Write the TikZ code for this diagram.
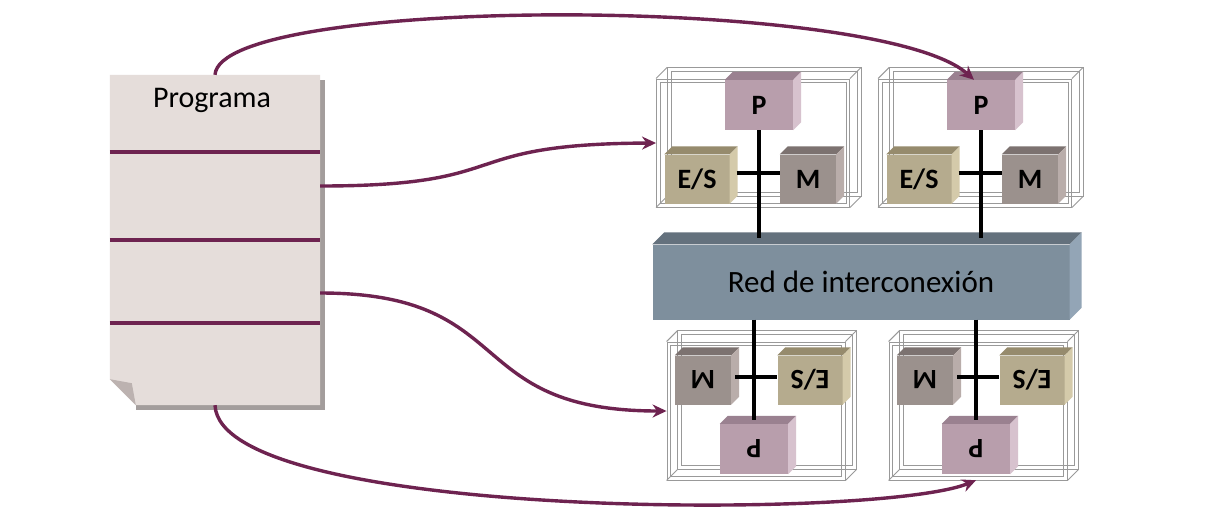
\documentclass[tikz,border=0pt]{standalone}
\usepackage{fontspec}
\setmainfont{Carlito}
\usetikzlibrary{positioning,arrows.meta,calc}

\definecolor{vino}{HTML}{6E2350}
\definecolor{papel}{HTML}{E5DDDA}
\definecolor{pliegue}{HTML}{BCB2B0}
\definecolor{sombra}{HTML}{A39D9C}
\definecolor{colP}{HTML}{B89EAC}
\definecolor{colPtop}{HTML}{9A8190}
\definecolor{colPside}{HTML}{D7C2CE}
\definecolor{colES}{HTML}{B5AB8E}
\definecolor{colEStop}{HTML}{968B6D}
\definecolor{colESside}{HTML}{D4CAAA}
\definecolor{colM}{HTML}{9B918D}
\definecolor{colMtop}{HTML}{7C7270}
\definecolor{colMside}{HTML}{B9ADAA}
\definecolor{colRed}{HTML}{7E8F9D}
\definecolor{colRedtop}{HTML}{64717D}
\definecolor{colRedside}{HTML}{93A5B6}

\tikzset{
  bloque/.style={inner sep=0pt, font=\fontsize{28}{28}\selectfont\bfseries},
  bloqueP/.style={bloque, fill=colP, minimum width=68pt, minimum height=50pt},
  bloqueES/.style={bloque, fill=colES, minimum width=65pt, minimum height=49pt},
  bloqueM/.style={bloque, fill=colM, minimum width=56pt, minimum height=49pt},
  wire/.style={draw=gray!80, line width=0.9pt, inner sep=0pt},
  bus/.style={line width=4pt, black},
  flecha/.style={draw=vino, line width=3.4pt, -{Stealth[length=14pt,width=13pt]}},
  renglon/.style={draw=vino, line width=3.4pt},
}

% caras superior y lateral de un bloque
\newcommand{\caras}[4]{%
  \fill[#3] (#1.north west) -- ++(#2,-#2) -- ([shift={(#2,-#2)}]#1.north east) -- (#1.north east) -- cycle;
  \fill[#4] (#1.north east) -- ([shift={(#2,-#2)}]#1.north east) -- ([shift={(#2,-#2)}]#1.south east) -- (#1.south east) -- cycle;}

% caja de alambre con doble linea
\newcommand{\alambre}[1]{%
  \draw[wire] ([shift={(11,-11)}]#1.north west) rectangle ([shift={(11,-11)}]#1.south east);
  \draw[wire] ([shift={(15,-7)}]#1.north west) rectangle ([shift={(7,-15)}]#1.south east);
  \draw[wire] ([shift={(4,4)}]#1.north west) rectangle ([shift={(-4,-4)}]#1.south east);
  \foreach \a in {north west,north east,south west,south east}
    \draw[wire] (#1.\a) -- ++(11,-11);}

\begin{document}
\begin{tikzpicture}[x=1pt,y=-1pt]
  \fill[white] (0,0) rectangle (1226,531);
  \useasboundingbox (0,0) rectangle (1226,531);

  % programa
  \node[minimum width=210pt, minimum height=330pt, inner sep=0pt] (prog) at (215,240) {};
  \fill[sombra] ([shift={(26,5)}]prog.north west) rectangle ([shift={(5,5)}]prog.south east);
  \fill[papel] (prog.north west) -- (prog.north east) -- (prog.south east)
    -- ([xshift=26pt]prog.south west) -- ([yshift=26pt]prog.south west) -- cycle;
  \fill[pliegue] ([yshift=26pt]prog.south west) -- ([shift={(22,-22)}]prog.south west)
    -- ([xshift=26pt]prog.south west) -- cycle;
  \node[font=\fontsize{30}{30}\selectfont] (tit) at (212,100) {Programa};
  \foreach \y in {152,240,323}
    \draw[renglon] (prog.west |- 0,\y) -- (prog.east |- 0,\y);

  % red
  \node[font=\fontsize{31}{31}\selectfont, fill=colRed, minimum width=417pt,
    minimum height=75pt, inner sep=0pt] (red) at (861,282) {Red de interconexión};
  \caras{red}{12}{colRedtop}{colRedside}

  \foreach \i/\dx in {1/0,2/222}{
    % modulo superior
    \node[wire, minimum width=193pt, minimum height=128pt] (Ct\i) at (753+\dx,143) {};
    \alambre{Ct\i}
    \node[bloqueP] (Pt\i) at (759+\dx,105) {P};
    \caras{Pt\i}{8}{colPtop}{colPside}
    \node[bloqueES] (ESt\i) at (697+\dx,179) {E/S};
    \caras{ESt\i}{8}{colEStop}{colESside}
    \node[bloqueM] (Mt\i) at (808+\dx,179) {M};
    \caras{Mt\i}{8}{colMtop}{colMside}
    \draw[bus] ($(ESt\i.east |- 0,173)+(7,0)$) -- (Mt\i.west |- 0,173);
    \draw[bus] (Pt\i.south) -- ($(Pt\i.south |- red.north)+(0,-6)$);

    % modulo inferior
    \node[wire, minimum width=178pt, minimum height=138pt] (Cb\i) at (756+\dx,411) {};
    \alambre{Cb\i}
    \node[bloqueM] (Mb\i) at (703+\dx,380) {\rotatebox{180}{M}};
    \caras{Mb\i}{8}{colMtop}{colMside}
    \node[bloqueES] (ESb\i) at (810+\dx,380) {\rotatebox{180}{E/S}};
    \caras{ESb\i}{8}{colEStop}{colESside}
    \node[bloqueP] (Pb\i) at (754+\dx,449) {\rotatebox{180}{P}};
    \caras{Pb\i}{8}{colPtop}{colPside}
    \draw[bus] ($(Mb\i.east |- 0,377)+(4,0)$) -- (ESb\i.west |- 0,377);
    \draw[bus] (red.south -| Pb\i.north) -- ($(Pb\i.north)+(0,-4)$);
  }

  % flechas
  \draw[flecha] (prog.north) .. controls (220,-5) and (880,-5) .. ([xshift=-7pt]Pt2.north);
  \draw[flecha] ($(prog.east)+(0,-54)$) .. controls (520,186) and (450,144) .. (Ct1.west);
  \draw[flecha] ($(prog.east)+(0,53)$) .. controls (520,293) and (460,411) .. (Cb1.west);
  \draw[flecha] (prog.south) .. controls (220,520) and (880,520) .. ([yshift=-6pt]Pb2.south);
\end{tikzpicture}
\end{document}
